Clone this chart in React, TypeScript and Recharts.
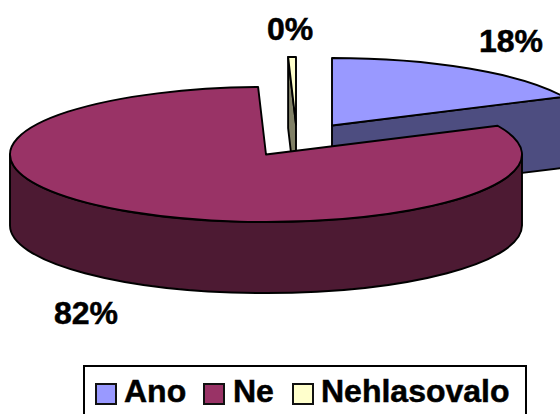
import React from "react";
import { PieChart, Pie, Legend } from "recharts";

const names = ["Ano", "Ne", "Nehlasovalo"];
const shares = [18, 81.51, 0.49];

const topColors = ["#9999ff", "#993366", "#ffffcc"];
const sideColors = ["#4d4d80", "#4d1a33", "#808066"];

// slice offsets from the pie centre, px
const explodeX = [66, 0, 30];
const explodeY = [-29, 0, -30];

const labelX = [511, 86, 290];
const labelY = [41, 313, 29];

// legend positions inside the box, px
const legendSwatchX = [10, 118, 207];
const legendTextX = [39, 148, 236];

const tableData = names.map((name, i) => ({ name, value: shares[i], fill: topColors[i] }));

const CX = 266;
const CY = 154.5;
const RX = 256;
const RY = 67.5;
const DEPTH = 71;
const FONT = "'Liberation Sans', Arial, sans-serif";
const STROKE = { stroke: "#000", strokeWidth: 1.9, strokeLinejoin: "round" as const };

const pt = (cx: number, cy: number, a: number, dy = 0) => {
  const r = (a * Math.PI) / 180;
  return `${(cx + RX * Math.cos(r)).toFixed(2)} ${(cy - RY * Math.sin(r) + dy).toFixed(2)}`;
};

// draws one flattened slice with its rim and cut faces
function sliceShape(show: number[]) {
  return (props: any) => {
    const i = names.indexOf(props.name);
    if (!show.includes(i)) return <g />;
    const cx = props.cx + explodeX[i];
    const cy = props.cy + explodeY[i];
    const s = props.startAngle;
    const e = props.endAngle;
    const large = s - e > 180 ? 1 : 0;
    const parts: React.ReactNode[] = [];

    const face = (a: number, key: string) => (
      <path
        key={key}
        d={`M${cx} ${cy} L${pt(cx, cy, a)} L${pt(cx, cy, a, DEPTH)} L${cx} ${cy + DEPTH} Z`}
        fill={sideColors[i]}
        {...STROKE}
      />
    );
    if (Math.cos((s * Math.PI) / 180) < 0) parts.push(face(s, "start"));
    if (Math.cos((e * Math.PI) / 180) > 0) parts.push(face(e, "end"));

    // front part of the rim: angles 0 to -180 going clockwise
    const from = Math.min(s, 0);
    const to = Math.max(e, -180);
    if (from > to) {
      parts.push(
        <path
          key="rim"
          d={`M${pt(cx, cy, from)} A${RX} ${RY} 0 0 1 ${pt(cx, cy, to)} L${pt(cx, cy, to, DEPTH)} A${RX} ${RY} 0 0 0 ${pt(cx, cy, from, DEPTH)} Z`}
          fill={sideColors[i]}
          {...STROKE}
        />
      );
    }

    parts.push(
      <path
        key="top"
        d={`M${cx} ${cy} L${pt(cx, cy, s)} A${RX} ${RY} 0 ${large} 1 ${pt(cx, cy, e)} Z`}
        fill={topColors[i]}
        {...STROKE}
      />
    );
    return <g>{parts}</g>;
  };
}

function percentLabel(props: any) {
  const i = names.indexOf(props.name);
  return (
    <text
      x={labelX[i]}
      y={labelY[i]}
      textAnchor="middle"
      dominantBaseline="central"
      fontFamily={FONT}
      fontWeight="bold"
      fontSize={32}
      fill="#000"
      stroke="#000"
      strokeWidth={0.5}
    >
      {Math.round(props.percent * 100)}%
    </text>
  );
}

function LegendBox() {
  return (
    <div
      style={{
        position: "relative",
        width: 440,
        height: 60,
        border: "2px solid #000",
        background: "#fff",
        boxSizing: "content-box",
        fontFamily: FONT,
        fontWeight: "bold",
        fontSize: 32,
        color: "#000",
        WebkitTextStroke: "0.5px #000",
      }}
    >
      {names.map((name, i) => (
        <React.Fragment key={name}>
          <div
            style={{
              position: "absolute",
              left: legendSwatchX[i],
              top: 16,
              width: 18,
              height: 18,
              border: "2px solid #111",
              background: topColors[i],
            }}
          />
          <div style={{ position: "absolute", left: legendTextX[i], top: 6, lineHeight: "36px", whiteSpace: "nowrap" }}>
            {name}
          </div>
        </React.Fragment>
      ))}
    </div>
  );
}

export default function App() {
  return (
    <div style={{ width: 560, height: 414, overflow: "hidden", position: "relative" }}>
      <style>{"body{margin:0}"}</style>
      <PieChart width={560} height={414} margin={{ top: 0, right: 0, bottom: 0, left: 0 }}>
        <Pie
          data={tableData}
          dataKey="value"
          nameKey="name"
          cx={CX}
          cy={CY}
          outerRadius={RX}
          startAngle={90}
          endAngle={-270}
          paddingAngle={0}
          isAnimationActive={false}
          shape={sliceShape([0, 2])}
          label={percentLabel}
          labelLine={false}
        />
        <Pie
          data={tableData}
          dataKey="value"
          nameKey="name"
          cx={CX}
          cy={CY}
          outerRadius={RX}
          startAngle={90}
          endAngle={-270}
          paddingAngle={0}
          isAnimationActive={false}
          shape={sliceShape([1])}
        />
        <Legend
          content={() => <LegendBox />}
          wrapperStyle={{ position: "absolute", left: 83, top: 365, width: 444, bottom: "auto" }}
        />
      </PieChart>
    </div>
  );
}
